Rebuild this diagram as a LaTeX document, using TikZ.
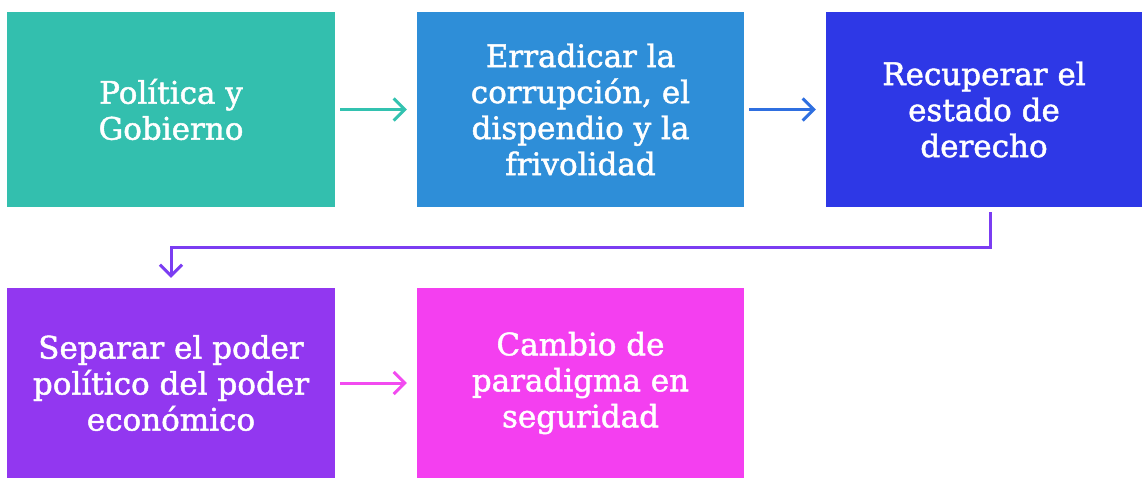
\documentclass[tikz,border=0pt]{standalone}
\usepackage{fontspec}
\setmainfont{DejaVu Serif}
\newfontfamily\boxfont[FakeBold=1.5]{DejaVu Serif}
\usetikzlibrary{arrows.meta,calc}
\definecolor{cteal}{HTML}{33BFAE}
\definecolor{cblue}{HTML}{2E8ED8}
\definecolor{cdeep}{HTML}{2E38E6}
\definecolor{cpurp}{HTML}{9237F0}
\definecolor{cmag}{HTML}{F43FF0}
\definecolor{ateal}{HTML}{33C2B0}
\definecolor{ablue}{HTML}{2F6FE0}
\definecolor{apurp}{HTML}{7B3DF2}
\definecolor{amag}{HTML}{F24BF0}
\tikzset{
  box/.style={rectangle, inner sep=0pt, text=white, align=center,
    font=\boxfont\fontsize{31}{36}\selectfont},
  conn/.style={line width=3pt, -{Straight Barb[length=11pt,width=22pt,line width=3pt]}},
}
\begin{document}
\begin{tikzpicture}[x=1pt,y=-1pt]
\useasboundingbox (0,0) rectangle (1142,478);
\node[box, fill=cteal, minimum width=328pt, minimum height=195pt] (b1) at (171,109.5) {Política y\\Gobierno};
\node[box, fill=cblue, minimum width=327pt, minimum height=195pt] (b2) at (580.5,109.5) {Erradicar la\\corrupción, el\\dispendio y la\\frivolidad};
\node[box, fill=cdeep, minimum width=316pt, minimum height=195pt] (b3) at (984,109.5) {Recuperar el\\estado de\\derecho};
\node[box, fill=cpurp, minimum width=328pt, minimum height=190pt] (b4) at (171,383) {Separar el poder\\político del poder\\económico};
\node[box, fill=cmag, minimum width=327pt, minimum height=190pt] (b5) at (580.5,383) {Cambio de\\paradigma en\\seguridad};
\draw[conn, ateal, shorten <=5pt, shorten >=10pt] (b1.east) -- (b2.west);
\draw[conn, ablue, shorten <=5pt, shorten >=10pt] (b2.east) -- (b3.west);
\draw[conn, amag, shorten <=5pt, shorten >=10pt] (b4.east) -- (b5.west);
\draw[conn, apurp] ([xshift=6pt,yshift=-5pt]b3.south) |- ++(0,35) -| ([yshift=10pt]b4.north);
\end{tikzpicture}
\end{document}
